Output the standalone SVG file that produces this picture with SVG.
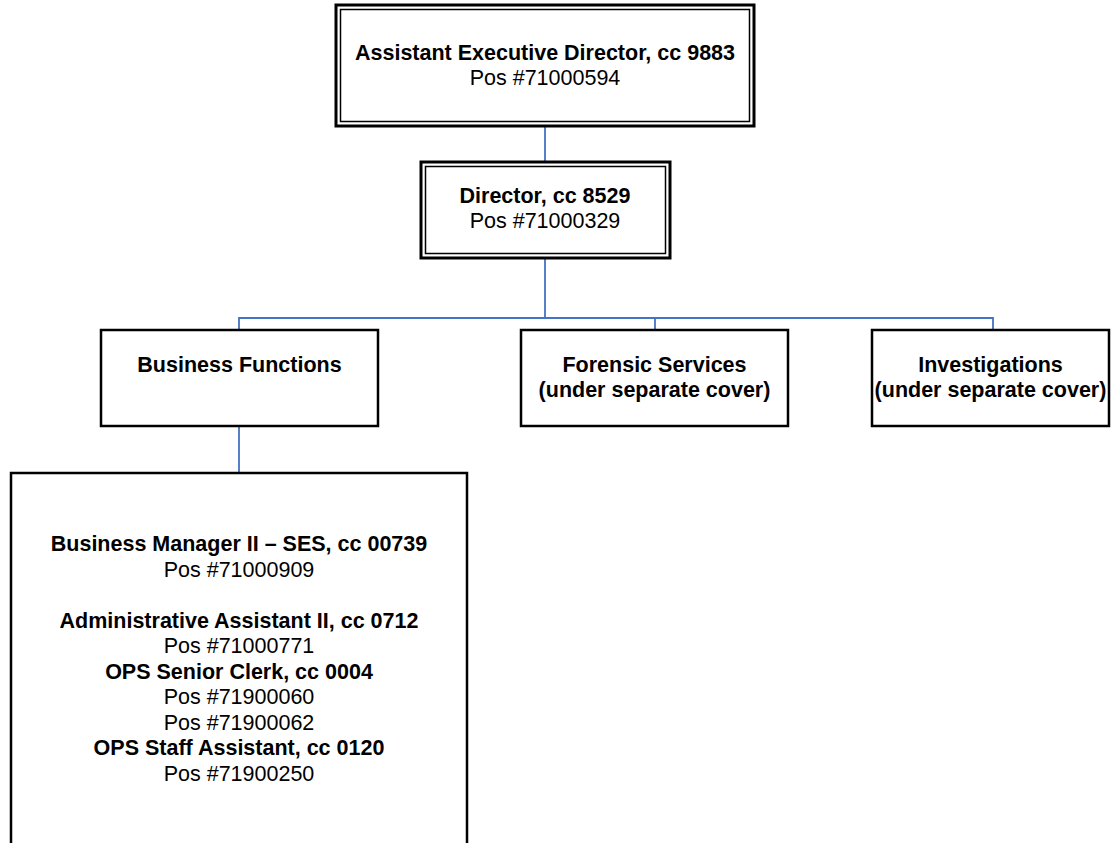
<svg xmlns="http://www.w3.org/2000/svg" width="1112" height="843" viewBox="0 0 1112 843">
  <style>
    .bg { fill: #ffffff; }
    .box { fill: #ffffff; stroke: #000000; stroke-width: 2.5; }
    .outer { fill: #ffffff; stroke: #000000; stroke-width: 3; }
    .inner { fill: none; stroke: #000000; stroke-width: 1.5; }
    .link { fill: none; stroke: #4472C4; stroke-width: 1.8; }
    text { font-family: "Liberation Sans", Arial, sans-serif; font-size: 21.5px; fill: #000000; text-anchor: middle; }
    .b { font-weight: bold; }
  </style>

  <rect class="bg" x="0" y="0" width="1112" height="843"/>

  <!-- reporting lines -->
  <g id="connectors">
    <path class="link" d="M545 127 V162"/>
    <path class="link" d="M545 258 V318"/>
    <path class="link" d="M239 330 V318 H993 V330"/>
    <path class="link" d="M655 318 V330"/>
    <path class="link" d="M239 426 V473"/>
  </g>

  <g id="assistant-executive-director">
    <rect class="outer" x="336" y="5" width="418" height="121"/>
    <rect class="inner" x="340.5" y="9.5" width="409" height="112"/>
    <text class="b" x="545" y="60">Assistant Executive Director, cc 9883</text>
    <text x="545" y="85">Pos #71000594</text>
  </g>

  <g id="director">
    <rect class="outer" x="421" y="162" width="249" height="96"/>
    <rect class="inner" x="425.5" y="166.5" width="240" height="87"/>
    <text class="b" x="545" y="203">Director, cc 8529</text>
    <text x="545" y="228">Pos #71000329</text>
  </g>

  <g id="business-functions">
    <rect class="box" x="101" y="330" width="277" height="96"/>
    <text class="b" x="239.5" y="372">Business Functions</text>
  </g>

  <g id="forensic-services">
    <rect class="box" x="521" y="330" width="267" height="96"/>
    <text class="b" x="654.5" y="372">Forensic Services</text>
    <text class="b" x="654.5" y="397">(under separate cover)</text>
  </g>

  <g id="investigations">
    <rect class="box" x="872" y="330" width="237" height="96"/>
    <text class="b" x="990.5" y="372">Investigations</text>
    <text class="b" x="990.5" y="397">(under separate cover)</text>
  </g>

  <g id="business-staff">
    <rect class="box" x="11" y="473" width="456" height="390"/>
    <text class="b" x="239" y="551">Business Manager II – SES, cc 00739</text>
    <text x="239" y="576.5">Pos #71000909</text>
    <text class="b" x="239" y="627.5">Administrative Assistant II, cc 0712</text>
    <text x="239" y="653">Pos #71000771</text>
    <text class="b" x="239" y="678.5">OPS Senior Clerk, cc 0004</text>
    <text x="239" y="704">Pos #71900060</text>
    <text x="239" y="729.5">Pos #71900062</text>
    <text class="b" x="239" y="755">OPS Staff Assistant, cc 0120</text>
    <text x="239" y="780.5">Pos #71900250</text>
  </g>
</svg>
